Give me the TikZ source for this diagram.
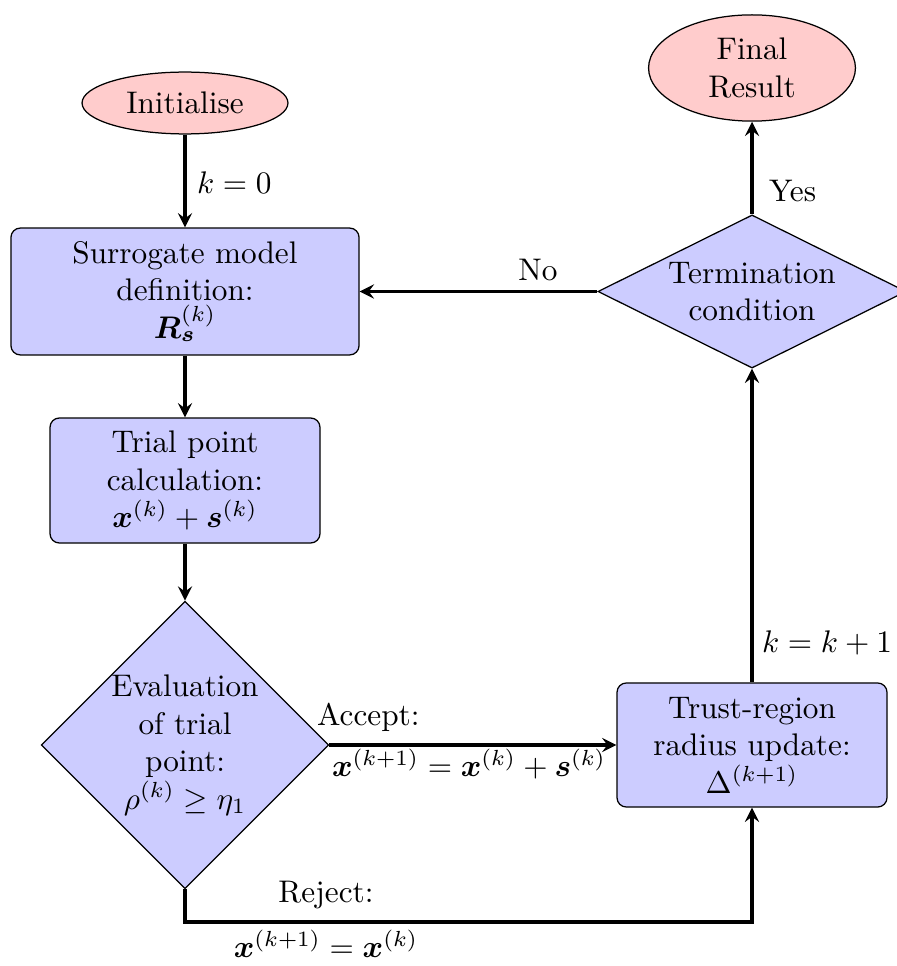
\documentclass[tikz,border=0pt]{standalone}
\usepackage{bm}
\usetikzlibrary{shapes.geometric,arrows}
\begin{document}
\begin{tikzpicture}[x=0.32pt,y=-0.32pt, >=stealth,
  proc/.style={draw, fill=blue!20, rounded corners=3pt, align=center, inner sep=0pt},
  termnode/.style={draw, fill=red!20, ellipse, align=center, inner sep=0pt},
  dec/.style={draw, fill=blue!20, diamond, align=center, inner sep=0pt},
  flow/.style={->, line width=1pt}]
\useasboundingbox (0,0) rectangle (896,966);
\node[termnode, minimum width=65.9pt, minimum height=19.8pt] (init) at (185,103) {Initialise};
\node[termnode, minimum width=66.2pt, minimum height=34pt] (final) at (752,68) {Final\\Result};
\node[proc, minimum width=111.4pt, minimum height=40.6pt] (surr) at (185,291.5) {Surrogate model\\definition:\\$\bm{R}_{\bm{s}}^{(k)}$};
\node[proc, minimum width=86.4pt, minimum height=40pt] (trial) at (185,480.5) {Trial point\\calculation:\\$\bm{x}^{(k)}+\bm{s}^{(k)}$};
\node[dec, minimum width=90.9pt, minimum height=90.9pt] (eval) at (185,745) {Evaluation\\of trial\\point:\\$\rho^{(k)}\geq\eta_1$};
\node[proc, minimum width=86.4pt, minimum height=39.7pt] (trust) at (752,745) {Trust-region\\radius update:\\$\Delta^{(k+1)}$};
\node[dec, aspect=2, minimum width=98.6pt, minimum height=49pt] (termc) at (752,291.5) {Termination\\condition};
\coordinate (c1) at (185,922);
\coordinate (c2) at (752,922);

\draw[flow] (init) -- (surr);
\draw[flow] (surr) -- (trial);
\draw[flow] (trial) -- (eval);
\draw[flow] (eval.east) -- (trust.west);
\draw[flow] (eval.south) -- (c1) -- (c2) -- (trust.south);
\draw[flow] (trust.north) -- (termc.south);
\draw[flow] (termc.west) -- (surr.east |- termc.west);
\draw[flow] (termc.north) -- (final.south);

\node[anchor=west] (lk0) at (186,183) {$k=0$};
\node (lno) at (538,270) {No};
\node[anchor=west] (lyes) at (758,191) {Yes};
\node[anchor=west] (lk1) at (751,643) {$k=k+1$};
\node[anchor=west] (lacc) at (306,717) {Accept:};
\node (lacc2) at (469,764) {$\bm{x}^{(k+1)}=\bm{x}^{(k)}+\bm{s}^{(k)}$};
\node (lrej) at (326,895) {Reject:};
\node (lrej2) at (326,944) {$\bm{x}^{(k+1)}=\bm{x}^{(k)}$};
\end{tikzpicture}
\end{document}
